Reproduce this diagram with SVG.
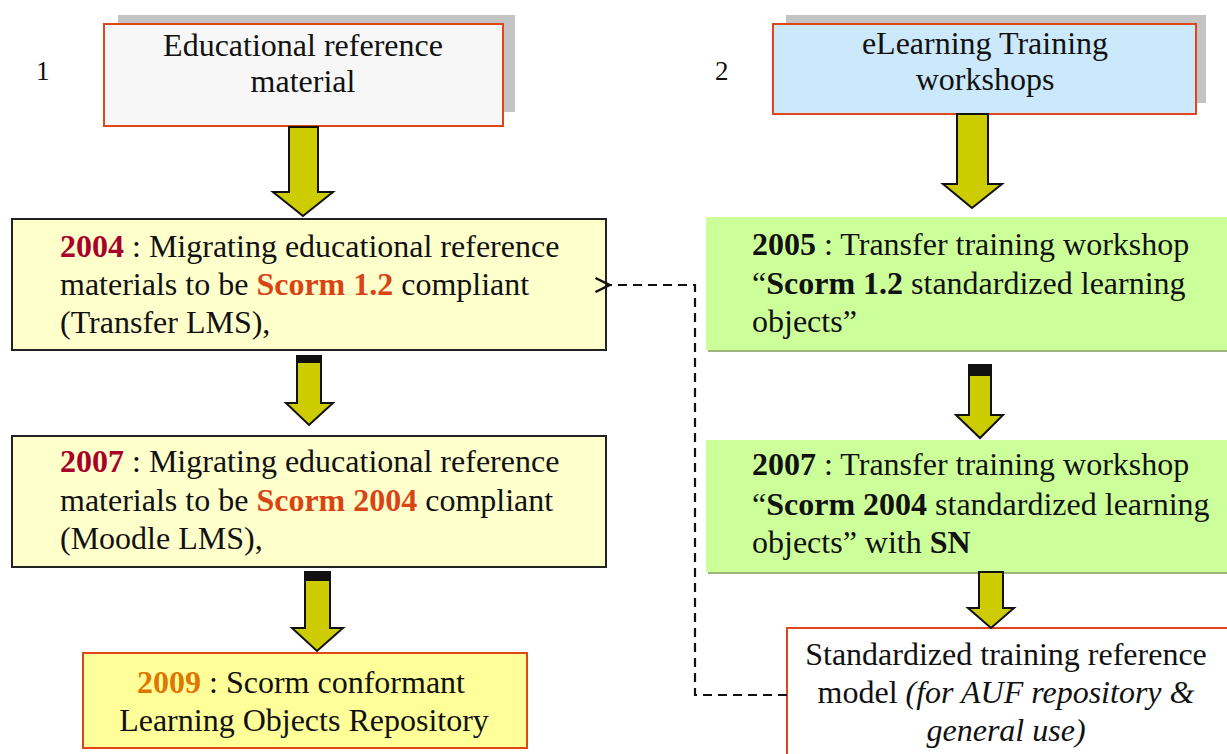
<svg xmlns="http://www.w3.org/2000/svg" width="1227" height="754" viewBox="0 0 1227 754">
<style>
text{font-family:"Liberation Serif","Times New Roman",serif;font-size:32px;fill:#111}
.b{font-weight:bold}
.dr{fill:#a8002a;font-weight:bold}
.or{fill:#d94414;font-weight:bold}
.og{fill:#dd7700;font-weight:bold}
.it{font-style:italic}
.arrow{fill:#cccc00;stroke:#111;stroke-width:2;stroke-linejoin:miter}
.cap{fill:#111}
.num{font-size:27px}
</style>
<defs>
<marker id="open" viewBox="0 0 18 18" refX="1.5" refY="9" markerWidth="18" markerHeight="18" markerUnits="userSpaceOnUse" orient="auto-start-reverse">
<path d="M16,2 L2,9 L16,16" fill="none" stroke="#111" stroke-width="2.5"/>
</marker>
</defs>
<rect width="1227" height="754" fill="#fff"/>

<text class="num" x="36" y="80">1</text>
<text class="num" x="715" y="80">2</text>

<g id="n-educational">
<rect x="118" y="15" width="397" height="97" fill="#c4c4c4"/>
<rect x="104" y="24" width="399" height="102" fill="#f7f7f7" stroke="#e0461c" stroke-width="2"/>
<text x="303" y="56" text-anchor="middle">Educational reference</text>
<text x="303" y="92" text-anchor="middle">material</text>
</g>

<g id="n-elearning">
<rect x="786" y="15" width="420" height="88" fill="#c4c4c4"/>
<rect x="773" y="24" width="423" height="90" fill="#cce9fb" stroke="#e0461c" stroke-width="2"/>
<text x="985" y="54" text-anchor="middle">eLearning Training</text>
<text x="985" y="90" text-anchor="middle">workshops</text>
</g>

<g id="n-2004">
<rect x="12" y="219" width="594" height="131" fill="#ffffcc" stroke="#222" stroke-width="2"/>
<text x="60" y="257"><tspan class="dr">2004</tspan> : Migrating educational reference</text>
<text x="60" y="295">materials to be <tspan class="or">Scorm 1.2</tspan> compliant</text>
<text x="60" y="333">(Transfer LMS),</text>
</g>

<g id="n-2007a">
<rect x="12" y="436" width="594" height="131" fill="#ffffcc" stroke="#222" stroke-width="2"/>
<text x="60" y="472"><tspan class="dr">2007</tspan> : Migrating educational reference</text>
<text x="60" y="511">materials to be <tspan class="or">Scorm 2004</tspan> compliant</text>
<text x="60" y="549">(Moodle LMS),</text>
</g>

<g id="n-2009">
<rect x="83" y="653" width="444" height="95" fill="#ffff99" stroke="#e0461c" stroke-width="2"/>
<text x="301" y="693" text-anchor="middle"><tspan class="og">2009</tspan> : Scorm conformant</text>
<text x="304" y="731" text-anchor="middle">Learning Objects Repository</text>
</g>

<g id="n-2005">
<rect x="708" y="219" width="522" height="133" fill="#9db57a"/>
<rect x="706" y="217" width="524" height="133" fill="#ccff99"/>
<text x="752" y="255"><tspan class="b">2005</tspan> : Transfer training workshop</text>
<text x="752" y="294">“<tspan class="b">Scorm 1.2</tspan> standardized learning</text>
<text x="752" y="332">objects”</text>
</g>

<g id="n-2007b">
<rect x="708" y="442" width="522" height="132" fill="#9db57a"/>
<rect x="706" y="440" width="524" height="132" fill="#ccff99"/>
<text x="752" y="475"><tspan class="b">2007</tspan> : Transfer training workshop</text>
<text x="752" y="515">“<tspan class="b">Scorm 2004</tspan> standardized learning</text>
<text x="752" y="553">objects” with <tspan class="b">SN</tspan></text>
</g>

<g id="n-standardized">
<rect x="787" y="628" width="450" height="140" fill="#fff" stroke="#e0461c" stroke-width="2"/>
<text x="1006" y="665" text-anchor="middle">Standardized training reference</text>
<text x="1006" y="703" text-anchor="middle">model <tspan class="it">(for AUF repository &amp;</tspan></text>
<text x="1006" y="741" text-anchor="middle" class="it">general use)</text>
</g>

<g id="connectors">
<path class="arrow" d="M289,127 H318 V192 H333 L303,216 L273,192 H289 Z"/>
<path class="arrow" d="M297,356 H321 V403 H333 L309,425 L286,403 H297 Z"/>
<rect class="cap" x="297" y="356" width="24" height="7"/>
<path class="arrow" d="M305,572 H330 V628 H343 L317,651 L292,628 H305 Z"/>
<rect class="cap" x="305" y="572" width="25" height="9"/>
<path class="arrow" d="M957,114 H988 V184 H1002 L972,208 L943,184 H957 Z"/>
<path class="arrow" d="M969,365 H991 V415 H1003 L980,438 L956,415 H969 Z"/>
<rect class="cap" x="969" y="365" width="22" height="11"/>
<path class="arrow" d="M979,572 H1003 V608 H1014 L991,628 L968,608 H979 Z"/>
<path d="M787,695 H695 V285 H610" fill="none" stroke="#111" stroke-width="2.2" stroke-dasharray="9,6" marker-end="url(#open)"/>
</g>
</svg>
